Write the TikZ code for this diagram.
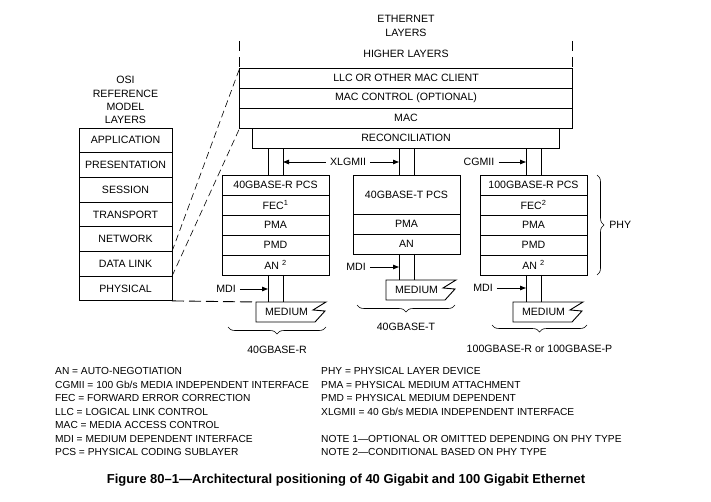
\documentclass[tikz,border=0pt]{standalone}
\usepackage{fontspec}
\setmainfont{Liberation Sans}
\usepackage{tikz}
\usetikzlibrary{calc}
\usetikzlibrary{positioning}
\usetikzlibrary{arrows.meta}
\usetikzlibrary{decorations.pathreplacing}
\def\labelfont{\fontsize{10.6}{13.3}\selectfont}
\def\legendfont{\fontsize{10.2}{13.5}\selectfont}
\def\mediumshape(#1){ \draw[line width=0.9pt] (#1.south west) -- (#1.north west) -- ([xshift=9pt]#1.north east) -- ([xshift=-4pt,yshift=-8pt]#1.north east) -- ([xshift=8pt,yshift=-9pt]#1.north east) -- ([xshift=-2pt]#1.south east) -- cycle }
\tikzstyle{layer} = [draw, rectangle, line width=0.9pt, inner sep=0pt, outer sep=0pt, minimum height=20pt, font=\labelfont]
\tikzstyle{osi} = [layer, minimum width=93pt, minimum height=24.7pt]
\tikzstyle{sublayer} = [layer, minimum width=107pt]
\tikzstyle{medium} = [rectangle, inner sep=0pt, outer sep=0pt, minimum width=61pt, minimum height=20pt, font=\labelfont]
\tikzstyle{lbl} = [inner sep=0pt, font=\labelfont]
\tikzstyle{ifacelbl} = [inner sep=4pt, font=\labelfont]
\tikzstyle{link} = [line width=0.9pt]
\tikzstyle{iface} = [line width=0.9pt, -{Triangle[length=6pt,width=4.5pt]}]
\tikzstyle{brace} = [decorate, decoration={brace, amplitude=7pt}, line width=0.6pt]
\tikzstyle{osiline} = [line width=0.6pt, dash pattern=on 7pt off 4pt]

\begin{document}
\begin{tikzpicture}[x=1pt, y=-1pt]
    \useasboundingbox (0,0) rectangle (711,502);

    \node[lbl, align=center] (ethtitle) at (406,26) {ETHERNET\\LAYERS};
    \coordinate (hltop) at (406,41);
    \node[lbl] (higher) at (406,54) {HIGHER LAYERS};
    \node[layer, minimum width=332.5pt] (llc) at (406,78) {LLC OR OTHER MAC CLIENT};
    \node[layer, minimum width=332.5pt, below=0pt of llc] (macctrl) {MAC CONTROL (OPTIONAL)};
    \node[layer, minimum width=332.5pt, below=0pt of macctrl] (mac) {MAC};
    \node[layer, minimum width=307pt, below=0pt of mac] (rec) {RECONCILIATION};
    \draw[link, dash pattern=on 10pt off 6pt] (llc.north west |- hltop) -- (llc.north west);
    \draw[link, dash pattern=on 10pt off 6pt] (llc.north east |- hltop) -- (llc.north east);

    \node[osi] (app) at (125.5,140.35) {APPLICATION};
    \node[osi, below=0pt of app] (pres) {PRESENTATION};
    \node[osi, below=0pt of pres] (sess) {SESSION};
    \node[osi, below=0pt of sess] (trans) {TRANSPORT};
    \node[osi, below=0pt of trans] (net) {NETWORK};
    \node[osi, below=0pt of net] (dlink) {DATA LINK};
    \node[osi, below=0pt of dlink] (phys) {PHYSICAL};
    \node[lbl, align=center, above=4pt of app] (ositle) {OSI\\REFERENCE\\MODEL\\LAYERS};

    \node[sublayer] (pcsR) at (275.5,185) {40GBASE-R PCS};
    \node[sublayer, below=0pt of pcsR] (fecR) {FEC\textsuperscript{1}};
    \node[sublayer, below=0pt of fecR] (pmaR) {PMA};
    \node[sublayer, below=0pt of pmaR] (pmdR) {PMD};
    \node[sublayer, below=0pt of pmdR] (anR) {AN \textsuperscript{2}};

    \node[sublayer, minimum height=39pt] (pcsT) at (406.5,194.5) {40GBASE-T PCS};
    \node[sublayer, below=0pt of pcsT] (pmaT) {PMA};
    \node[sublayer, below=0pt of pmaT] (anT) {AN};

    \node[sublayer] (pcsC) at (533.5,185) {100GBASE-R PCS};
    \node[sublayer, below=0pt of pcsC] (fecC) {FEC\textsuperscript{2}};
    \node[sublayer, below=0pt of fecC] (pmaC) {PMA};
    \node[sublayer, below=0pt of pmaC] (pmdC) {PMD};
    \node[sublayer, below=0pt of pmdC] (anC) {AN \textsuperscript{2}};

    \node[medium] (medR) at (286.5,312) {MEDIUM};
    \node[medium] (medT) at (416.5,290) {MEDIUM};
    \node[medium] (medC) at (543.5,312) {MEDIUM};
    \mediumshape(medR);
    \mediumshape(medT);
    \mediumshape(medC);

    \foreach \dx in {-7.5,7.5} {
        \draw[link] ($(pcsR.north)+(\dx,0)$) -- ($(pcsR.north |- rec.south)+(\dx,0)$);
        \draw[link] ($(pcsT.north)+(\dx,0)$) -- ($(pcsT.north |- rec.south)+(\dx,0)$);
        \draw[link] ($(pcsC.north)+(\dx,0)$) -- ($(pcsC.north |- rec.south)+(\dx,0)$);
        \draw[link] ($(anR.south)+(\dx,0)$) -- ($(anR.south |- medR.north)+(\dx,0)$);
        \draw[link] ($(anT.south)+(\dx,0)$) -- ($(anT.south |- medT.north)+(\dx,0)$);
        \draw[link] ($(anC.south)+(\dx,0)$) -- ($(anC.south |- medC.north)+(\dx,0)$);
    }

    \draw[osiline] (dlink.north east) -- (llc.north west);
    \draw[osiline] (phys.north east) -- (mac.south west);
    \draw[link, dash pattern=on 12pt off 5pt] (phys.south east) -- (medR.north west);

    \node[ifacelbl] (xlgmii) at (348,162) {XLGMII};
    \draw[iface] (xlgmii.west) -- ($(pcsR.north |- xlgmii.west)+(7.5,0)$);
    \draw[iface] (xlgmii.east) -- ($(pcsT.north |- xlgmii.east)+(-7.5,0)$);
    \node[ifacelbl] (cgmii) at (479,162) {CGMII};
    \draw[iface] (cgmii.east) -- ($(pcsC.north |- cgmii.east)+(-7.5,0)$);

    \node[ifacelbl] (mdiR) at (226,289) {MDI};
    \draw[iface] (mdiR.east) -- ($(anR.south |- mdiR.east)+(-7.5,0)$);
    \node[ifacelbl] (mdiT) at (356,267) {MDI};
    \draw[iface] (mdiT.east) -- ($(anT.south |- mdiT.east)+(-7.5,0)$);
    \node[ifacelbl] (mdiC) at (483,288) {MDI};
    \draw[iface] (mdiC.east) -- ($(anC.south |- mdiC.east)+(-7.5,0)$);

    \draw[brace] (326,327) -- (228,327) node[lbl, midway, below=19pt] (typeR) {40GBASE-R};
    \draw[brace] (455,305) -- (357,305) node[lbl, midway, below=18pt] (typeT) {40GBASE-T};
    \draw[brace] (587,325) -- (492,325) node[lbl, midway, below=20pt] (typeC) {100GBASE-R or 100GBASE-P};
    \draw[brace] (597,175) -- (597,275) node[lbl, midway, right=12pt] (phy) {PHY};

    \node[inner sep=0pt, font=\legendfont, anchor=north west, align=left] (legendL) at (55,367.3) {AN = AUTO-NEGOTIATION\\CGMII = 100 Gb/s MEDIA INDEPENDENT INTERFACE\\FEC = FORWARD ERROR CORRECTION\\LLC = LOGICAL LINK CONTROL\\MAC = MEDIA ACCESS CONTROL\\MDI = MEDIUM DEPENDENT INTERFACE\\PCS = PHYSICAL CODING SUBLAYER};
    \node[inner sep=0pt, font=\legendfont, anchor=north west, align=left] (legendR) at (321,367.3) {PHY = PHYSICAL LAYER DEVICE\\PMA = PHYSICAL MEDIUM ATTACHMENT\\PMD = PHYSICAL MEDIUM DEPENDENT\\XLGMII = 40 Gb/s MEDIA INDEPENDENT INTERFACE\\[13.5pt]NOTE 1—OPTIONAL OR OMITTED DEPENDING ON PHY TYPE\\NOTE 2—CONDITIONAL BASED ON PHY TYPE};

    \node[inner sep=0pt, font=\bfseries\fontsize{13}{15}\selectfont] (caption) at (346,480) {Figure 80–1—Architectural positioning of 40 Gigabit and 100 Gigabit Ethernet};
\end{tikzpicture}
\end{document}
